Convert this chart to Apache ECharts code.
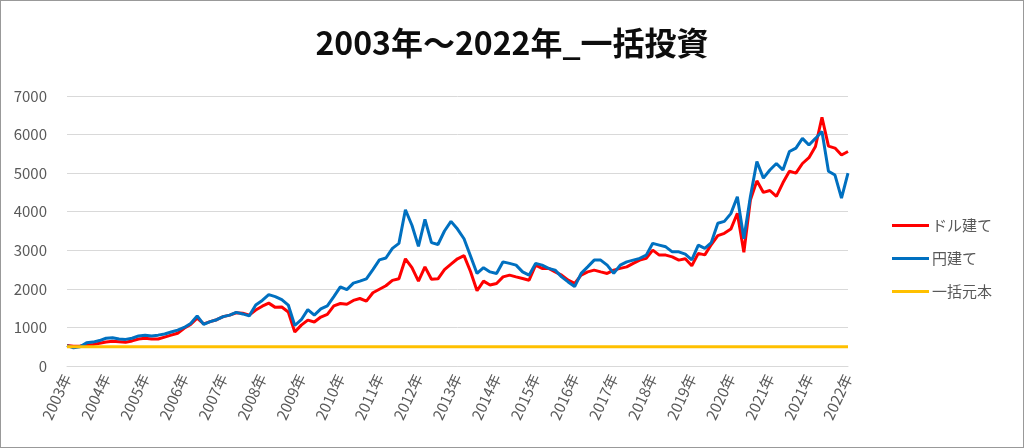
<!DOCTYPE html>
<html>
<head>
<meta charset="utf-8">
<script src="https://cdn.jsdelivr.net/npm/echarts@6/dist/echarts.min.js"></script>
<style>
html,body{margin:0;padding:0;background:#fff;}
#wrap{width:1024px;height:448px;box-sizing:border-box;border:1px solid #999;position:relative;overflow:hidden;}
#chart{position:absolute;left:-1px;top:-1px;width:1024px;height:448px;}
</style>
</head>
<body>
<div id="wrap"><div id="chart"></div></div>
<script>
const titleText = '2003年～2022年_一括投資';
const seriesNames = ['ドル建て', '円建て', '一括元本'];
const tickLabels = ['2003年','2004年','2005年','2006年','2007年','2008年','2009年','2010年','2011年','2012年','2013年','2014年','2015年','2016年','2017年','2018年','2019年','2020年','2021年','2021年','2022年'];
const pointsPerLabel = 6;

const dollar = [530,510,520,540,560,590,620,640,630,615,650,700,720,700,700,750,800,850,980,1080,
1240,1090,1150,1200,1280,1320,1380,1370,1320,1450,1550,1630,1520,1530,1400,880,1060,1190,1140,1270,
1340,1560,1620,1600,1700,1750,1680,1900,1990,2080,2220,2260,2780,2550,2200,2570,2250,2260,2500,2640,
2780,2860,2450,1950,2200,2100,2140,2310,2355,2310,2270,2225,2615,2530,2530,2440,2355,2225,2140,2355,
2440,2485,2440,2400,2485,2530,2570,2660,2745,2790,3005,2875,2875,2830,2745,2780,2600,2920,2880,3150,
3380,3440,3550,3960,2950,4300,4800,4500,4550,4400,4750,5050,5000,5250,5400,5690,6450,5700,5650,5470,
5560];

const yen = [530,470,500,600,620,660,720,730,700,690,720,780,800,780,800,830,880,930,1000,1100,
1300,1080,1150,1200,1280,1320,1390,1350,1300,1580,1700,1850,1800,1720,1580,1050,1200,1460,1320,1480,
1560,1800,2050,1980,2150,2200,2260,2500,2750,2800,3050,3180,4050,3650,3100,3800,3200,3150,3500,3750,
3550,3300,2850,2400,2550,2440,2400,2700,2660,2615,2440,2355,2660,2615,2530,2485,2310,2180,2060,2400,
2570,2745,2745,2615,2400,2615,2700,2745,2790,2875,3180,3135,3090,2960,2960,2900,2750,3135,3050,3200,
3700,3750,3950,4390,3300,4390,5300,4870,5080,5250,5080,5560,5650,5900,5730,5900,6080,5050,4950,4350,
5000];

const principalAmount = 500;

const categories = dollar.map((_, i) => String(i));
const principal = [[0, principalAmount], [categories.length - 1, principalAmount]];

const font = '"Noto Sans CJK JP", "Noto Sans", sans-serif';
const chart = echarts.init(document.getElementById('chart'), null, {renderer: 'canvas'});
chart.setOption({
  animation: false,
  backgroundColor: 'transparent',
  textStyle: {fontFamily: font},
  title: {
    text: titleText,
    left: 'center',
    top: 22,
    textStyle: {fontSize: 32, fontWeight: 'bold', color: '#0d0d0d', fontFamily: font}
  },
  legend: {
    orient: 'vertical',
    left: 887,
    top: 213,
    itemWidth: 37,
    itemHeight: 3,
    itemGap: 18,
    icon: 'rect',
    data: seriesNames,
    textStyle: {fontSize: 15, color: '#595959', fontFamily: font, padding: [0, 0, 0, -2]}
  },
  grid: {left: 67, right: 176, top: 96, bottom: 82},
  xAxis: {
    type: 'category',
    data: categories,
    boundaryGap: false,
    axisLine: {show: true, lineStyle: {color: '#d9d9d9', width: 1}},
    axisTick: {show: false},
    splitLine: {show: false},
    axisLabel: {
      interval: pointsPerLabel - 1,
      rotate: 65,
      margin: 9,
      fontSize: 15,
      color: '#595959',
      fontFamily: font,
      formatter: (v, idx) => tickLabels[Math.round(idx / pointsPerLabel)] || ''
    }
  },
  yAxis: {
    type: 'value',
    min: 0,
    max: 7000,
    interval: 1000,
    axisLine: {show: false},
    axisTick: {show: false},
    splitLine: {lineStyle: {color: '#d9d9d9', width: 1}},
    axisLabel: {fontSize: 15, color: '#595959', margin: 20, fontFamily: font, formatter: v => String(v)}
  },
  series: [
    {name: seriesNames[0], type: 'line', data: dollar, showSymbol: false, symbol: 'none',
     lineStyle: {color: '#ff0000', width: 3}, itemStyle: {color: '#ff0000'}},
    {name: seriesNames[1], type: 'line', data: yen, showSymbol: false, symbol: 'none',
     lineStyle: {color: '#0070c0', width: 3}, itemStyle: {color: '#0070c0'}},
    {name: seriesNames[2], type: 'line', data: principal, showSymbol: false, symbol: 'none',
     lineStyle: {color: '#ffc000', width: 3}, itemStyle: {color: '#ffc000'}}
  ]
});
</script>
</body>
</html>
